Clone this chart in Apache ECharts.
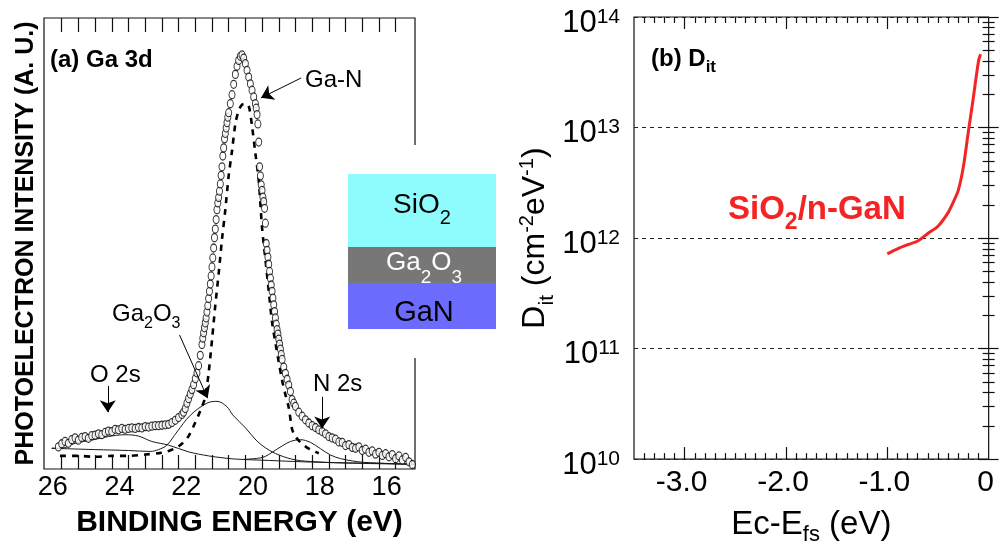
<!DOCTYPE html>
<html>
<head>
<meta charset="utf-8">
<script src="https://cdn.jsdelivr.net/npm/echarts@6/dist/echarts.min.js"></script>
<style>
  html, body { margin: 0; padding: 0; background: #fff; }
  #chart { width: 1003px; height: 551px; }
</style>
</head>
<body>
<div id="chart"></div>
<script>
// (a) Ga 3d core-level spectrum: measured points (binding energy in eV, intensity in a.u.)
const bindingEnergy = [
  26.1, 26.0, 25.9, 25.8, 25.7, 25.6, 25.5, 25.4, 25.3, 25.2, 25.1, 25.0, 24.9, 24.8, 24.7, 24.6, 24.5, 24.4, 24.3,
  24.2, 24.1, 24.0, 23.9, 23.8, 23.7, 23.6, 23.5, 23.4, 23.3, 23.2, 23.1, 23.0, 22.9, 22.8, 22.7, 22.6, 22.5, 22.4,
  22.35, 22.30, 22.25, 22.20, 22.15, 22.10, 22.05, 22.00, 21.95, 21.90, 21.85,
  21.800, 21.775, 21.750, 21.725, 21.700, 21.675, 21.650, 21.625, 21.600, 21.575, 21.550, 21.525, 21.500,
  21.475, 21.450, 21.425, 21.400, 21.375, 21.350, 21.325, 21.300, 21.275, 21.250, 21.225, 21.200, 21.175,
  21.150, 21.125, 21.100, 21.075, 21.050, 21.025, 21.000,
  20.95, 20.90, 20.85, 20.80, 20.75, 20.70, 20.65, 20.60, 20.55, 20.50, 20.45, 20.40, 20.35, 20.30, 20.25,
  20.200, 20.175, 20.150, 20.125, 20.100, 20.075, 20.050, 20.025, 20.000, 19.975, 19.950, 19.925, 19.900,
  19.875, 19.850, 19.825, 19.800, 19.775, 19.750, 19.725, 19.700, 19.675, 19.650, 19.625, 19.600, 19.575,
  19.550, 19.525, 19.500, 19.475, 19.450, 19.425, 19.400,
  19.35, 19.30, 19.25, 19.20, 19.15, 19.10, 19.05,
  19.0, 18.9, 18.8, 18.7, 18.6, 18.5, 18.4, 18.3, 18.2, 18.1, 18.0, 17.9, 17.8, 17.7, 17.6, 17.5, 17.4, 17.3,
  17.2, 17.1, 17.0, 16.9, 16.8, 16.7, 16.6, 16.5, 16.4, 16.3, 16.2, 16.1, 16.0, 15.9, 15.8, 15.7, 15.6, 15.5
];
const intensity = [
  4.9, 5.6, 6.1, 5.7, 6.5, 6.9, 6.4, 7.0, 7.2, 6.8, 7.4, 7.5, 7.8, 7.6, 8.1, 8.4, 8.3, 8.8, 8.7,
  9.0, 8.8, 9.0, 9.1, 9.0, 9.2, 9.1, 9.4, 9.3, 9.5, 9.6, 9.6, 9.7, 9.8, 9.9, 10.3, 10.8, 11.4, 12.1,
  12.6, 13.4, 14.6, 15.6, 16.6, 17.6, 18.7, 20.0, 21.3, 22.9, 25.2,
  27.6, 29.0, 30.2, 31.3, 32.4, 33.5, 34.8, 36.2, 37.8, 39.4, 41.0, 42.8, 44.8,
  46.8, 49.0, 51.3, 53.2, 55.3, 57.5, 59.0, 60.2, 61.6, 63.2, 65.1, 67.0, 69.4,
  71.2, 73.2, 74.4, 75.6, 76.8, 78.0, 79.0,
  81.0, 83.0, 85.3, 87.5, 89.3, 90.6, 91.5, 91.8, 91.1, 89.9, 88.4, 86.9, 85.4, 84.0, 82.5,
  81.0, 80.0, 78.6, 76.5, 72.5, 67.0, 65.0, 63.0, 61.8, 60.3, 59.3, 57.8, 54.5,
  50.0, 48.5, 47.0, 45.4, 43.8, 42.3, 40.8, 39.4, 37.9, 36.4, 34.9, 33.5, 32.1,
  30.9, 29.9, 28.8, 27.7, 26.6, 25.4, 24.3,
  22.6, 21.2, 19.9, 18.6, 17.2, 15.4, 14.6,
  13.9, 12.6, 11.7, 10.9, 10.2, 9.6, 9.2, 8.7, 8.3, 7.8, 7.2, 6.9, 6.6, 6.0, 5.9, 5.2, 5.4, 4.8,
  4.6, 4.9, 4.1, 4.4, 3.7, 4.0, 3.3, 3.7, 3.0, 3.4, 2.7, 3.2, 2.3, 2.9, 2.0, 2.6, 1.6, 1.0
];

// fitted components (each drawn on its background)
const gaNEnergy = [26.05, 25.5, 25.0, 24.5, 24.0, 23.5, 23.0, 22.8, 22.6, 22.4, 22.2, 22.0, 21.9, 21.8, 21.7,
  21.6, 21.5, 21.4, 21.3, 21.2, 21.1, 21.0, 20.9, 20.8, 20.7, 20.6, 20.5, 20.4, 20.3, 20.2, 20.1, 20.0, 19.9,
  19.8, 19.7, 19.6, 19.5, 19.4, 19.3, 19.2, 19.1, 19.0, 18.9, 18.8, 18.6, 18.4, 18.3];
const gaNFit = [2.9, 2.9, 2.7, 2.9, 2.9, 3.2, 3.6, 4.0, 4.6, 5.6, 7.3, 10.3, 12.0, 13.8, 16.0,
  21.3, 28.5, 36.3, 43.3, 50.9, 57.5, 65.0, 70.5, 76.5, 79.5, 80.8, 81.0, 80.5, 76.0, 70.0, 64.0, 53.5, 46.5,
  39.5, 32.5, 28.0, 23.7, 19.7, 16.5, 13.6, 8.8, 7.2, 6.3, 5.6, 4.5, 3.8, 3.5];

const ga2o3Energy = [26.3, 25.0, 24.0, 23.35, 23.1, 22.85, 22.55, 22.15, 21.65, 21.35, 21.05, 20.88, 20.48,
  20.18, 19.88, 19.49, 18.99, 18.39, 17.4, 15.4];
const ga2o3Fit = [4.6, 4.3, 4.1, 3.9, 4.3, 5.3, 8.2, 11.9, 14.6, 15.0, 13.8, 12.0, 9.0,
  6.4, 4.6, 3.1, 2.0, 1.6, 1.3, 1.05];

const o2sEnergy = [26.3, 26.0, 25.6, 25.1, 24.6, 24.1, 23.7, 23.3, 22.8, 22.2, 21.6, 21.2, 20.8, 19.8, 18.8,
  17.8, 16.8, 15.4];
const o2sFit = [4.6, 4.6, 5.7, 6.4, 7.2, 7.6, 7.3, 6.1, 5.3, 3.8, 2.9, 2.5, 2.2, 1.9, 1.6, 1.4, 1.3, 1.05];

const n2sEnergy = [20.6, 20.1, 19.9, 19.7, 19.4, 19.15, 18.85, 18.55, 18.25, 17.95, 17.65, 17.3, 17.0, 16.5, 15.4];
const n2sFit = [2.1, 2.4, 2.8, 3.7, 5.1, 6.1, 6.5, 5.9, 4.5, 3.1, 2.3, 1.8, 1.5, 1.3, 1.05];

// (b) interface state density of SiO2/n-GaN
const ecMinusEfs = [-1.0, -0.9, -0.8, -0.7, -0.6, -0.5, -0.4, -0.35, -0.3, -0.25, -0.2, -0.15, -0.1, -0.08];
const ditValues = [7.2e11, 8.0e11, 8.7e11, 9.4e11, 1.1e12, 1.28e12, 1.7e12, 2.1e12, 2.7e12, 4.4e12, 9.2e12,
  1.9e13, 4.0e13, 4.6e13];

// axis ticks and labels
const xpsTicks = [26, 25.5, 25, 24.5, 24, 23.5, 23, 22.5, 22, 21.5, 21, 20.5, 20, 19.5, 19, 18.5, 18, 17.5,
  17, 16.5, 16];
const xpsLabels = [26, 24, 22, 20, 18, 16];
const ditXLabels = [-3, -2, -1, 0];
const ditXMajor = [-3, -2, -1];
const ditXMinor = [-3.4, -3.3, -3.2, -3.1, -2.9, -2.8, -2.7, -2.6, -2.5, -2.4, -2.3, -2.2, -2.1,
  -1.9, -1.8, -1.7, -1.6, -1.5, -1.4, -1.3, -1.2, -1.1, -0.9, -0.8, -0.7, -0.6, -0.5, -0.4, -0.3, -0.2, -0.1];
const ditDecades = [1e10, 1e11, 1e12, 1e13, 1e14];
const ditYMinor = [2e10, 3e10, 4e10, 5e10, 6e10, 7e10, 8e10, 9e10,
  2e11, 3e11, 4e11, 5e11, 6e11, 7e11, 8e11, 9e11,
  2e12, 3e12, 4e12, 5e12, 6e12, 7e12, 8e12, 9e12,
  2e13, 3e13, 4e13, 5e13, 6e13, 7e13, 8e13, 9e13];

const FONT = 'Arial, "Liberation Sans", Helvetica, sans-serif';
const zip = (xs, ys) => xs.map((x, i) => [x, ys[i]]);
const INK = '#111';

const xpsRange = { min: 15.42, max: 26.53 };
const ditXRange = { min: -3.5, max: 0 };
const ditYRange = { min: 1e10, max: 1e14 };

// rich-text styles: every token shares one line height; sub/superscripts are shifted with padding
function scriptStyles(size, lineHeight, subSize, subDrop, supSize, supRise, extra) {
  const common = Object.assign({ fontFamily: FONT, lineHeight: lineHeight, verticalAlign: 'middle' }, extra || {});
  return {
    b: Object.assign({}, common, { fontSize: size }),
    sub: Object.assign({}, common, { fontSize: subSize, padding: [2 * subDrop, 0, 0, 0] }),
    sup: Object.assign({}, common, { fontSize: supSize, padding: [0, 0, 2 * supRise, 0] })
  };
}

function tickAxis(base, values, len) {
  return Object.assign({
    axisLine: { show: false },
    splitLine: { show: false },
    axisLabel: { show: false },
    axisTick: { show: true, inside: true, length: len, customValues: values, lineStyle: { color: INK, width: 1.2 } }
  }, base);
}

const thinLine = { color: '#1a1a1a', width: 1 };

const chart = echarts.init(document.getElementById('chart'), null, { renderer: 'canvas' });

chart.setOption({
  animation: false,
  backgroundColor: '#fff',
  textStyle: { fontFamily: FONT, color: '#000' },
  grid: [
    { left: 44, top: 18, width: 371, height: 451, show: true, borderColor: INK, borderWidth: 1.2 },
    { left: 634, top: 17, width: 356, height: 445, show: true, borderColor: INK, borderWidth: 1.2 }
  ],
  xAxis: [
    Object.assign(tickAxis({ gridIndex: 0, type: 'value', position: 'bottom', inverse: true }, xpsTicks, 14), xpsRange, {
      axisLabel: {
        show: true, customValues: xpsLabels, fontSize: 27, lineHeight: 28, color: '#000',
        margin: 5, padding: [0, 18, 0, 0]
      },
      name: 'BINDING ENERGY (eV)', nameLocation: 'middle', nameGap: 37,
      nameTextStyle: { fontSize: 30, fontWeight: 'bold', lineHeight: 32, color: '#000', padding: [0, 0, 0, 20] }
    }),
    Object.assign(tickAxis({ gridIndex: 0, type: 'value', position: 'top', inverse: true }, xpsTicks, 14), xpsRange),
    Object.assign(tickAxis({ gridIndex: 1, type: 'value', position: 'bottom' }, ditXMajor, 12), ditXRange, {
      axisLabel: {
        show: true, customValues: ditXLabels, fontSize: 30, lineHeight: 32, color: '#000', margin: 8,
        padding: [0, 6, 0, 0],
        formatter: v => (v === 0 ? '0' : v.toFixed(1))
      },
      name: '{b|Ec-E}{sub|fs}{b| (eV)}', nameLocation: 'middle', nameGap: 49,
      nameTextStyle: { rich: scriptStyles(33, 32, 22, 10, 22, 8, { color: '#000' }) }
    }),
    Object.assign(tickAxis({ gridIndex: 1, type: 'value', position: 'bottom' }, ditXMinor, 6), ditXRange),
    Object.assign(tickAxis({ gridIndex: 1, type: 'value', position: 'top' }, ditXMajor, 12), ditXRange),
    Object.assign(tickAxis({ gridIndex: 1, type: 'value', position: 'top' }, ditXMinor, 6), ditXRange)
  ],
  yAxis: [
    {
      gridIndex: 0, type: 'value', min: 0, max: 100,
      axisLine: { show: false }, axisTick: { show: false }, axisLabel: { show: false }, splitLine: { show: false },
      name: 'PHOTOELECTRON INTENSITY (A. U.)', nameLocation: 'middle', nameGap: 4,
      nameTextStyle: { fontSize: 25, fontWeight: 'bold', lineHeight: 28, color: '#000' }
    },
    Object.assign(tickAxis({ gridIndex: 1, type: 'log', logBase: 10, position: 'left' }, ditDecades, 10), ditYRange, {
      splitLine: { show: true, lineStyle: { color: '#222', width: 1, type: [4, 4] } },
      axisLabel: {
        show: true, customValues: ditDecades, margin: 14, padding: [12, 0, 0, 0],
        formatter: v => '{b|10}{sup|' + Math.round(Math.log10(v)) + '}',
        rich: scriptStyles(31, 34, 21, 0, 21, 6, { color: '#000' })
      },
      name: '{b|D}{sub|it}{b| (cm}{sup|-2}{b|eV}{sup|-1}{b|)}', nameLocation: 'middle', nameGap: 82,
      nameTextStyle: { rich: scriptStyles(32, 34, 21, 12, 20, 8, { color: '#000' }) }
    }),
    Object.assign(tickAxis({ gridIndex: 1, type: 'log', logBase: 10, position: 'left' }, ditYMinor, 6), ditYRange),
    Object.assign(tickAxis({ gridIndex: 1, type: 'log', logBase: 10, position: 'right' }, ditDecades, 10), ditYRange),
    Object.assign(tickAxis({ gridIndex: 1, type: 'log', logBase: 10, position: 'right' }, ditYMinor, 6), ditYRange)
  ],
  series: [
    {
      name: 'Ga2O3', type: 'line', xAxisIndex: 0, yAxisIndex: 0, data: zip(ga2o3Energy, ga2o3Fit),
      symbol: 'none', smooth: 0.35, lineStyle: thinLine, silent: true, z: 2
    },
    {
      name: 'O 2s', type: 'line', xAxisIndex: 0, yAxisIndex: 0, data: zip(o2sEnergy, o2sFit),
      symbol: 'none', smooth: 0.35, lineStyle: thinLine, silent: true, z: 2,
      markLine: {
        silent: true, symbol: ['none', 'arrow'], symbolSize: 12, precision: 2,
        label: { show: false }, emphasis: { disabled: true },
        lineStyle: { color: '#000', width: 1, type: 'solid' },
        itemStyle: { color: '#000' },
        data: [
          [{ coord: [18.83, 86.7] }, { coord: [20.03, 82.3] }],
          [{ coord: [22.47, 29.7] }, { coord: [21.63, 15.7] }],
          [{ coord: [24.62, 18.4] }, { coord: [24.62, 12.6] }],
          [{ coord: [18.2, 16.0] }, { coord: [18.2, 9.0] }]
        ]
      }
    },
    {
      name: 'N 2s', type: 'line', xAxisIndex: 0, yAxisIndex: 0, data: zip(n2sEnergy, n2sFit),
      symbol: 'none', smooth: 0.35, lineStyle: thinLine, silent: true, z: 2
    },
    {
      name: 'Ga-N', type: 'line', xAxisIndex: 0, yAxisIndex: 0, data: zip(gaNEnergy, gaNFit),
      symbol: 'none', smooth: 0.3, lineStyle: { color: '#000', width: 2.6, type: [6, 6] }, silent: true, z: 3
    },
    {
      name: 'measured', type: 'scatter', xAxisIndex: 0, yAxisIndex: 0, data: zip(bindingEnergy, intensity),
      symbol: 'circle', symbolSize: [6, 8],
      itemStyle: { color: '#fff', borderColor: '#000', borderWidth: 1.1 }, silent: true, z: 4
    },
    {
      name: 'SiO2/n-GaN', type: 'line', xAxisIndex: 2, yAxisIndex: 1, data: zip(ecMinusEfs, ditValues),
      symbol: 'none', smooth: 0.25, lineStyle: { color: '#f42424', width: 3 }, silent: true, z: 5
    }
  ],
  graphic: [
    // gap in the left frame behind the layer stack
    { type: 'rect', shape: { x: 405, y: 145, width: 95, height: 213 }, style: { fill: '#fff' }, z: 50 },
    { type: 'rect', shape: { x: 348, y: 174, width: 148, height: 73 }, style: { fill: '#8efcfc' }, z: 51 },
    { type: 'rect', shape: { x: 348, y: 247, width: 148, height: 36 }, style: { fill: '#777777' }, z: 51 },
    { type: 'rect', shape: { x: 348, y: 283, width: 148, height: 46 }, style: { fill: '#6b6bfd' }, z: 51 },
    {
      type: 'text', x: 422, y: 190, z: 52,
      style: {
        text: '{b|SiO}{sub|2}', align: 'center', verticalAlign: 'top', fill: '#000',
        rich: scriptStyles(28, 30, 20, 13, 20, 0)
      }
    },
    {
      type: 'text', x: 424, y: 249, z: 52,
      style: {
        text: '{b|Ga}{sub|2}{b|O}{sub|3}', align: 'center', verticalAlign: 'top', fill: '#fff',
        rich: scriptStyles(26, 28, 19, 15, 19, 0, { color: '#fff' })
      }
    },
    {
      type: 'text', x: 424, y: 313, z: 52,
      style: { text: 'GaN', align: 'center', verticalAlign: 'middle', fill: '#000', font: '29px ' + FONT }
    },
    // panel titles and peak labels
    {
      type: 'text', x: 50, y: 60, z: 52,
      style: { text: '(a) Ga 3d', verticalAlign: 'middle', fill: '#000', font: 'bold 24px ' + FONT }
    },
    {
      type: 'text', x: 305, y: 80, z: 52,
      style: { text: 'Ga-N', verticalAlign: 'middle', fill: '#000', font: '24px ' + FONT }
    },
    {
      type: 'text', x: 112, y: 301, z: 52,
      style: {
        text: '{b|Ga}{sub|2}{b|O}{sub|3}', verticalAlign: 'top', fill: '#000',
        rich: scriptStyles(24, 26, 16, 10, 16, 0)
      }
    },
    {
      type: 'text', x: 90, y: 375, z: 52,
      style: { text: 'O 2s', verticalAlign: 'middle', fill: '#000', font: '24px ' + FONT }
    },
    {
      type: 'text', x: 313, y: 384, z: 52,
      style: { text: 'N 2s', verticalAlign: 'middle', fill: '#000', font: '24px ' + FONT }
    },
    {
      type: 'text', x: 651, y: 46, z: 52,
      style: {
        text: '{b|(b) D}{sub|it}', verticalAlign: 'top', fill: '#000',
        rich: scriptStyles(24, 26, 17, 8, 17, 0, { fontWeight: 'bold' })
      }
    },
    {
      type: 'text', x: 728, y: 193, z: 52,
      style: {
        text: '{b|SiO}{sub|2}{b|/n-GaN}', verticalAlign: 'top', fill: '#f42424',
        rich: scriptStyles(33, 34, 23, 13, 23, 0, { fontWeight: 'bold', color: '#f42424' })
      }
    }
  ]
});
</script>
</body>
</html>
